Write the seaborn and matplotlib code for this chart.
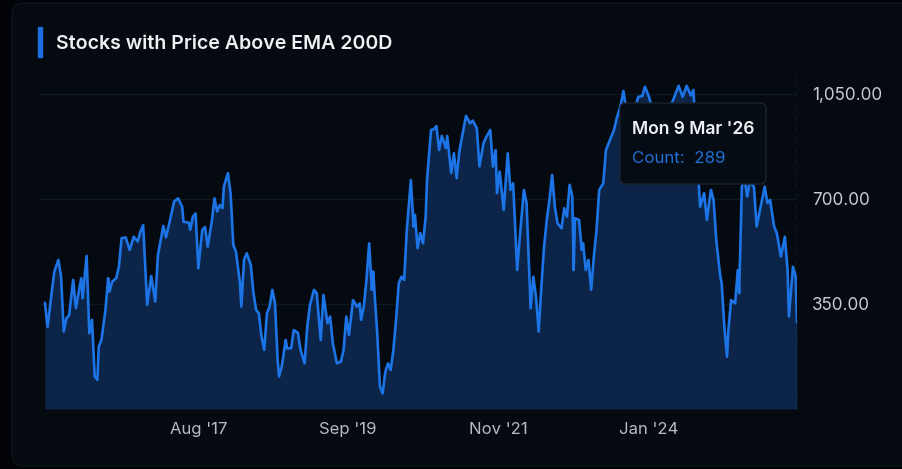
import matplotlib
matplotlib.use("Agg")
import matplotlib.pyplot as plt
from matplotlib.patches import FancyBboxPatch, Rectangle
import pandas as pd
import seaborn as sns

# Weekly series (Mondays), last point Mon 9 Mar 2026
n_weeks = 560
last_date = "2026-03-09"

week_idx = [
    0, 2, 5, 7, 10, 12, 14, 16, 18, 21, 23, 27, 28, 31, 33, 35, 37, 39, 40, 42,
    45, 47, 48, 50, 53, 55, 57, 60, 63, 66, 69, 71, 73, 76, 79, 82, 84, 88, 90, 93,
    96, 99, 102, 103, 107, 108, 110, 112, 114, 117, 119, 121, 124, 126, 128, 130, 132, 133, 136, 138,
    140, 142, 145, 146, 148, 150, 153, 155, 157, 159, 161, 163, 165, 167, 169, 171, 173, 174, 176, 179,
    180, 183, 185, 188, 190, 193, 195, 197, 200, 202, 205, 207, 210, 212, 214, 217, 220, 222, 224, 226,
    229, 232, 234, 235, 237, 239, 241, 243, 244, 245, 247, 249, 251, 253, 255, 257, 259, 261, 263, 265,
    267, 269, 272, 274, 275, 277, 279, 281, 283, 284, 287, 289, 291, 293, 295, 298, 299, 302, 304, 306,
    308, 311, 313, 316, 318, 321, 323, 326, 328, 331, 333, 335, 336, 338, 341, 344, 346, 348, 351, 353,
    356, 358, 361, 363, 365, 367, 369, 371, 373, 375, 377, 379, 381, 384, 386, 388, 390, 392, 393, 394,
    397, 399, 400, 402, 404, 406, 408, 410, 412, 415, 417, 419, 421, 423, 425, 428, 430, 431, 435, 438,
    441, 444, 446, 449, 452, 456, 460, 465, 467, 471, 474, 477, 480, 482, 484, 487, 490, 492, 495, 497,
    499, 502, 503, 505, 507, 508, 510, 513, 515, 516, 518, 520, 522, 524, 527, 529, 532, 535, 537, 539,
    542, 544, 547, 550, 552, 553, 556, 558, 559,
]

counts = [
    354, 274, 387, 458, 497, 441, 258, 302, 313, 430, 336, 436, 369, 510, 252, 297, 108, 97, 208, 230,
    330, 436, 391, 424, 436, 474, 569, 572, 530, 574, 558, 591, 613, 347, 443, 358, 513, 610, 572, 630,
    691, 702, 674, 624, 621, 597, 641, 652, 469, 597, 606, 541, 624, 702, 658, 680, 669, 741, 786, 719,
    547, 524, 419, 341, 497, 519, 480, 386, 330, 319, 241, 197, 319, 341, 397, 352, 163, 108, 141, 230,
    202, 202, 263, 254, 197, 152, 274, 347, 397, 386, 230, 380, 286, 308, 219, 152, 158, 197, 308, 247,
    363, 341, 352, 297, 341, 430, 552, 397, 458, 386, 252, 74, 52, 124, 152, 130, 197, 297, 419, 441,
    430, 597, 763, 608, 647, 536, 586, 552, 641, 763, 930, 932, 943, 863, 910, 869, 910, 786, 852, 769,
    858, 930, 977, 952, 961, 936, 808, 886, 906, 930, 808, 863, 719, 791, 663, 852, 730, 752, 463, 574,
    730, 686, 336, 441, 374, 258, 408, 541, 630, 697, 780, 674, 619, 602, 669, 641, 747, 708, 463, 636,
    630, 530, 552, 463, 497, 397, 508, 597, 730, 752, 863, 886, 908, 930, 969, 1013, 1060, 1030, 960, 990,
    1040, 1043, 1074, 1040, 990, 960, 980, 1010, 1030, 1077, 1040, 1077, 1045, 1063, 900, 674, 719, 630, 730, 697,
    563, 441, 419, 274, 174, 263, 363, 352, 463, 386, 741, 770, 708, 760, 740, 608, 674, 741, 686, 697,
    608, 586, 508, 574, 463, 308, 474, 441, 289,
]

tick_weeks = [114, 225, 337, 449]
tick_labels = ["Aug '17", "Sep '19", "Nov '21", "Jan '24"]
y_ticks = [350, 700, 1050]

title = "Stocks with Price Above EMA 200D"
tooltip_date = "Mon 9 Mar '26"
tooltip_label = "Count:"

all_weeks = pd.date_range(end=last_date, periods=n_weeks, freq="W-MON")
df = pd.DataFrame({"date": all_weeks[week_idx], "count": counts})

sns.set_theme(style="dark")
plt.rcParams["font.family"] = ["Inter", "DejaVu Sans"]

W, H = 902, 469
fig = plt.figure(figsize=(W / 100, H / 100), dpi=100, facecolor="#010306")

# card background
card = FancyBboxPatch((0.12, 0.03), 9.3, 4.63, boxstyle="round,pad=0,rounding_size=0.12",
                      transform=fig.dpi_scale_trans, facecolor="#040a10",
                      edgecolor="#0c151e", lw=1, zorder=-1)
fig.patches.append(card)

ax = fig.add_axes([38 / W, (H - 409) / H, (797 - 38) / W, (409 - 72) / H])
ax.set_facecolor("none")

ax.fill_between(df["date"], df["count"], 0, color="#0b2447", lw=0)
sns.lineplot(data=df, x="date", y="count", color="#1c74e6", lw=1.9, ax=ax)
ax.axvline(all_weeks[-1], color="#4d555d", lw=1, ls=(0, (4, 4)))

ax.set_xlim(all_weeks[0] - pd.Timedelta(days=36), all_weeks[-1])
ax.set_ylim(0, 1123)

ax.yaxis.tick_right()
ax.set_yticks(y_ticks)
ax.set_yticklabels([f"{v:,.2f}" for v in y_ticks])
ax.set_xticks(all_weeks[tick_weeks])
ax.set_xticklabels(tick_labels)
ax.tick_params(axis="y", length=0, pad=11, labelcolor="#c8ccd0", labelsize=12.3)
ax.tick_params(axis="x", length=0, pad=9, labelcolor="#b8bcc0", labelsize=12)
ax.grid(axis="y", color="#0e1820", lw=1)
ax.grid(axis="x", visible=False)
ax.set_xlabel("")
ax.set_ylabel("")
for s in ax.spines.values():
    s.set_visible(False)

# title with accent bar
fig.patches.append(Rectangle((38 / W, (H - 57) / H), 4 / W, 30 / H,
                             transform=fig.transFigure, color="#1d6fe0", zorder=2))
fig.text(56 / W, 1 - 44 / H, title, va="center", ha="left", color="#eef1f4",
         fontsize=14.1, fontweight="semibold")

# tooltip for last point
tip = FancyBboxPatch((6.20, (H - 184) / 100), 1.46, 0.81, boxstyle="round,pad=0,rounding_size=0.06",
                     transform=fig.dpi_scale_trans, facecolor="#060c13",
                     edgecolor="#1a242f", lw=1, zorder=5)
fig.patches.append(tip)
fig.text(632 / W, 1 - 130 / H, tooltip_date, va="center", ha="left", color="#eef1f4",
         fontsize=12.6, fontweight="semibold", zorder=6)
fig.text(632 / W, 1 - 158 / H, f"{tooltip_label}  {df['count'].iloc[-1]}", va="center",
         ha="left", color="#1f6fd6", fontsize=12.2, zorder=6)

fig.savefig("out.png", dpi=100, facecolor=fig.get_facecolor())
